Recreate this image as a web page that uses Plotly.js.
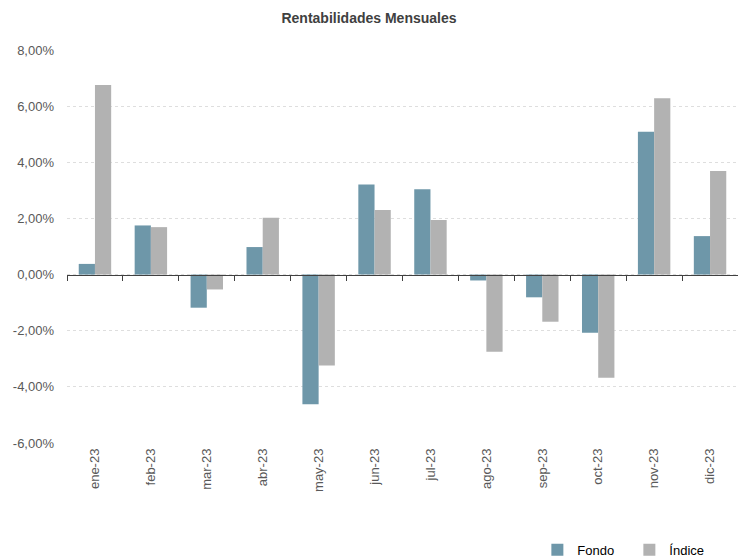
<!DOCTYPE html>
<html>
<head>
<meta charset="utf-8">
<script src="https://cdn.plot.ly/plotly-3.0.1.min.js"></script>
<style>html,body{margin:0;padding:0;background:#fff;}#chart{width:738px;height:557px;}</style>
</head>
<body>
<div id="chart"></div>
<script>
const months = ["ene-23","feb-23","mar-23","abr-23","may-23","jun-23","jul-23","ago-23","sep-23","oct-23","nov-23","dic-23"];
const fondo  = [0.38, 1.75, -1.18, 0.98, -4.62, 3.21, 3.04, -0.21, -0.81, -2.07, 5.09, 1.37];
const indice = [6.75, 1.69, -0.53, 2.02, -3.24, 2.30, 1.94, -2.75, -1.68, -3.68, 6.28, 3.69];
const yTicks = [-6, -4, -2, 0, 2, 4, 6, 8];
const yTickText = yTicks.map(v => v.toFixed(2).replace('.', ',') + '%');

const fontFam = '"Liberation Sans", Arial, sans-serif';

const traces = [
  {type:'bar', name:'Fondo', x:months, y:fondo, marker:{color:'#6e97a9'}, hoverinfo:'skip'},
  {type:'bar', name:'Índice', x:months, y:indice, marker:{color:'#b2b2b2'}, hoverinfo:'skip'},
  {type:'scatter', mode:'markers', x:months, y:months.map(()=>0), xaxis:'x2', yaxis:'y',
   marker:{opacity:0, size:1}, showlegend:false, hoverinfo:'skip'}
];

const layout = {
  width:738, height:557,
  margin:{l:67, r:0, t:50, b:114, autoexpand:false},
  paper_bgcolor:'#fff', plot_bgcolor:'#fff',
  font:{family:fontFam, size:13, color:'#595959'},
  title:{text:'<b>Rentabilidades Mensuales</b>', font:{family:fontFam, size:14, color:'#404040'},
         x:0.5, xanchor:'center', y:0.967, yanchor:'middle'},
  barmode:'group', bargap:0.42, bargroupgap:0,
  xaxis:{type:'category', categoryorder:'array', categoryarray:months, range:[-0.5, 11.5],
         tickangle:-90, ticks:'', showline:false, showgrid:false, zeroline:false, automargin:false,
         tickfont:{family:fontFam, size:13, color:'#595959'}, ticklabelstandoff:2, fixedrange:true},
  xaxis2:{type:'category', categoryorder:'array', categoryarray:months, range:[-0.5, 11.5],
          overlaying:'x', anchor:'free', position:6/14, side:'bottom', automargin:false,
          showticklabels:false, ticks:'outside', tickson:'boundaries', ticklen:5, tickwidth:1,
          tickcolor:'#404040', showline:true, linecolor:'#404040', linewidth:1,
          showgrid:false, zeroline:false, fixedrange:true},
  yaxis:{range:[-6, 8], tickmode:'array', tickvals:yTicks, ticktext:yTickText, automargin:false,
         showgrid:true, gridcolor:'#dedede', griddash:'dot', gridwidth:1,
         zeroline:false, showline:false, ticks:'', ticklabelstandoff:12,
         tickfont:{family:fontFam, size:13, color:'#595959'}, fixedrange:true},
  legend:{orientation:'h', x:0.701, xanchor:'left', y:-0.272, yanchor:'middle',
          font:{family:fontFam, size:13, color:'#000'}, itemwidth:30,
          entrywidth:47, entrywidthmode:'pixels', traceorder:'normal'},
  showlegend:true
};

Plotly.newPlot('chart', traces, layout, {displayModeBar:false, staticPlot:true});
</script>
</body>
</html>
